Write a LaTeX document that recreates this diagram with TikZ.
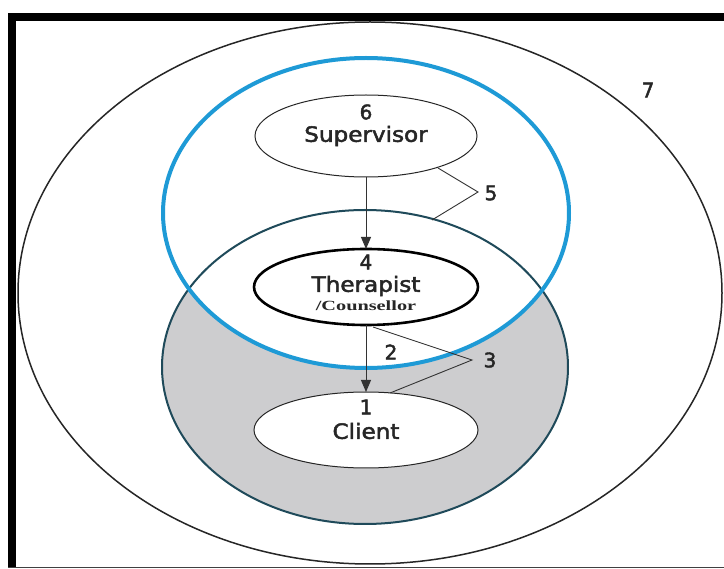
\documentclass[tikz,border=0pt]{standalone}
\usepackage{fontspec}
\usepackage{graphicx}
\setmainfont{DejaVu Sans}
\newfontfamily\medf{DejaVu Sans}[FakeBold=2.2]
\newfontfamily\serifb{Liberation Serif}
\usetikzlibrary{arrows.meta}
\definecolor{cblue}{HTML}{1E9AD6}
\definecolor{cteal}{HTML}{1F4A5A}
\definecolor{cgray}{HTML}{CDCDCF}
\definecolor{ctext}{HTML}{262626}
\newcommand{\wide}[1]{\scalebox{1.1}[1]{#1}}
\tikzset{
  lbl/.style={text=ctext, font=\medf\fontsize{21}{23}\selectfont, inner sep=0pt},
  num/.style={text=ctext, font=\medf\fontsize{20}{22}\selectfont, inner sep=0pt},
  conn/.style={draw=black!80, line width=0.9pt},
  arr/.style={conn, -{Triangle[length=12pt,width=10pt]}},
}
\begin{document}
\begin{tikzpicture}[x=1pt,y=-1pt]
\useasboundingbox (0,0) rectangle (724,569);
\fill[white] (0,0) rectangle (724,569);
% frame
\fill[black] (8,13) rectangle (724,21);
\fill[black] (8,13) rectangle (16,567);
\draw[black!75, line width=1.2pt] (8,567.5) -- (724,567.5);
% outer ellipse
\draw[black!85, line width=1.5pt] (370,293) ellipse [x radius=352, y radius=271];
% gray area
\fill[cgray] (365,367) ellipse [x radius=203, y radius=157];
\fill[white] (366,213) ellipse [x radius=203, y radius=155];
\draw[cteal, line width=2pt] (365,367) ellipse [x radius=203, y radius=157];
\draw[cblue, line width=4pt] (366,213) ellipse [x radius=203, y radius=155];
% role ellipses
\draw[black!85, line width=1pt, fill=white] (366,136) ellipse [x radius=111, y radius=41];
\draw[black, line width=2.6pt, fill=white] (366,287) ellipse [x radius=112, y radius=38];
\draw[black!85, line width=1pt, fill=white] (366,430) ellipse [x radius=112, y radius=38];
% named anchor coordinates
\coordinate (supB) at (366,177);
\coordinate (therT) at (366,249);
\coordinate (therB) at (366,325);
\coordinate (cliT) at (366,392);
\coordinate (s5a) at (438,168);
\coordinate (s5m) at (478,192);
\coordinate (s5b) at (432,220);
\coordinate (s3a) at (373,327);
\coordinate (s3m) at (472,360);
\coordinate (s3b) at (390,393);
% texts
\node[num] (n6) at (366,112) {6};
\node[lbl] (sup) at (366,136) {\wide{Supervisor}};
\node[num] (n4) at (366,262) {4};
\node[lbl] (ther) at (366,286) {\wide{Therapist}};
\node[inner sep=0pt, text=ctext, font=\serifb\bfseries\fontsize{14}{15}\selectfont] (couns) at (366,306) {\scalebox{1.45}[1]{/Counsellor}};
\node[num] (n1) at (366,407) {1};
\node[lbl] (cli) at (366,431) {\wide{Client}};
\node[num] (n2) at (391,352) {2};
\node[num] (n3) at (490,360) {3};
\node[num] (n5) at (491,193) {5};
\node[num] (n7) at (648,90) {7};
% connectors
\draw[arr] (supB) -- (therT);
\draw[arr] (therB) -- (cliT);
\draw[conn] (s5a) -- (s5m) -- (s5b);
\draw[conn] (s3a) -- (s3m) -- (s3b);
\end{tikzpicture}
\end{document}
